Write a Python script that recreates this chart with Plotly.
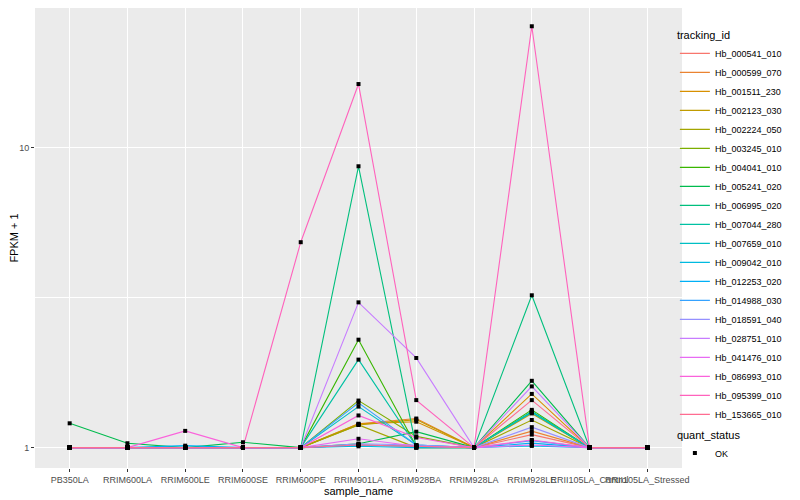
import plotly.graph_objects as go

# samples on the x axis
sample_name = ['PB350LA', 'RRIM600LA', 'RRIM600LE', 'RRIM600SE', 'RRIM600PE',
               'RRIM901LA', 'RRIM928BA', 'RRIM928LA', 'RRIM928LE',
               'RRII105LA_Control', 'RRII105LA_Stressed']

tracking_id = ['Hb_000541_010', 'Hb_000599_070', 'Hb_001511_230', 'Hb_002123_030',
               'Hb_002224_050', 'Hb_003245_010', 'Hb_004041_010', 'Hb_005241_020',
               'Hb_006995_020', 'Hb_007044_280', 'Hb_007659_010', 'Hb_009042_010',
               'Hb_012253_020', 'Hb_014988_030', 'Hb_018591_040', 'Hb_028751_010',
               'Hb_041476_010', 'Hb_086993_010', 'Hb_095399_010', 'Hb_153665_010']

# FPKM + 1 for each gene across the samples
Hb_000541_010 = [1, 1, 1, 1, 1, 1.02, 1.01, 1, 1.105, 1, 1]
Hb_000599_070 = [1, 1, 1, 1, 1, 1.20, 1.25, 1, 1.135, 1, 1]
Hb_001511_230 = [1, 1, 1, 1, 1, 1.20, 1.22, 1, 1.51, 1, 1]
Hb_002123_030 = [1, 1, 1, 1, 1, 1.19, 1.24, 1, 1.30, 1, 1]
Hb_002224_050 = [1, 1, 1, 1, 1, 1.19, 1.00, 1, 1.236, 1, 1]
Hb_003245_010 = [1, 1, 1, 1, 1, 1.435, 1.09, 1, 1.315, 1, 1]
Hb_004041_010 = [1, 1, 1, 1, 1, 2.29, 1.01, 1, 1.336, 1, 1]
Hb_005241_020 = [1.205, 1.034, 1, 1.042, 1, 1.03, 1.13, 1, 1.67, 1, 1]
Hb_006995_020 = [1, 1, 1, 1, 1, 8.67, 1.00, 1, 3.22, 1, 1]
Hb_007044_280 = [1, 1, 1, 1, 1, 1.965, 1.01, 1, 1.32, 1, 1]
Hb_007659_010 = [1, 1, 1, 1, 1, 1.37, 1.02, 1, 1.31, 1, 1]
Hb_009042_010 = [1, 1, 1, 1, 1, 1.01, 1.00, 1, 1.013, 1, 1]
Hb_012253_020 = [1, 1, 1.015, 1, 1, 1.02, 1.01, 1, 1.035, 1, 1]
Hb_014988_030 = [1, 1, 1, 1, 1, 1.41, 1.02, 1, 1.055, 1, 1]
Hb_018591_040 = [1, 1, 1, 1, 1, 1.03, 1.02, 1, 1.17, 1, 1]
Hb_028751_010 = [1, 1, 1, 1, 1, 3.05, 1.99, 1, 1.60, 1, 1]
Hb_041476_010 = [1, 1, 1, 1, 1, 1.07, 1.01, 1, 1.02, 1, 1]
Hb_086993_010 = [1, 1, 1.137, 1, 1, 1.28, 1.08, 1, 1.06, 1, 1]
Hb_095399_010 = [1, 1, 1, 1, 4.84, 16.3, 1.44, 1, 25.4, 1, 1]
Hb_153665_010 = [1, 1, 1, 1, 1, 1.02, 1.01, 1, 1.44, 1, 1]

values = [Hb_000541_010, Hb_000599_070, Hb_001511_230, Hb_002123_030, Hb_002224_050,
          Hb_003245_010, Hb_004041_010, Hb_005241_020, Hb_006995_020, Hb_007044_280,
          Hb_007659_010, Hb_009042_010, Hb_012253_020, Hb_014988_030, Hb_018591_040,
          Hb_028751_010, Hb_041476_010, Hb_086993_010, Hb_095399_010, Hb_153665_010]

# ggplot hue palette for 20 levels
colors = ['#F8766D', '#EA8331', '#D89000', '#C09B00', '#A3A500', '#7CAE00', '#39B600',
          '#00BB4E', '#00BF7D', '#00C1A3', '#00BFC4', '#00BAE0', '#00B0F6', '#35A2FF',
          '#9590FF', '#C77CFF', '#E76BF3', '#FA62DB', '#FF62BC', '#FF6C91']

fig = go.Figure()

# lines, one per gene
for name, vals, col in zip(tracking_id, values, colors):
    fig.add_trace(go.Scatter(
        x=sample_name, y=vals, mode='lines', name=name,
        line=dict(color=col, width=1.1), legend='legend'
    ))

# points on top of the lines
for i, (name, vals) in enumerate(zip(tracking_id, values)):
    fig.add_trace(go.Scatter(
        x=sample_name, y=vals, mode='markers', name='OK',
        marker=dict(color='black', size=4, symbol='square'),
        legend='legend2', legendgroup='OK', showlegend=(i == 0)
    ))

# the page body adds an 8px offset, so margins are set 8px smaller
font = 'Liberation Sans, Arial, sans-serif'
fig.update_layout(
    width=800, height=500,
    paper_bgcolor='white', plot_bgcolor='#EBEBEB',
    margin=dict(l=27, r=126, t=0, b=40, autoexpand=False),
    font=dict(family=font, size=9, color='#4D4D4D'),
    legend=dict(
        title=dict(text='tracking_id', font=dict(size=11, color='black')),
        font=dict(size=9, color='black'),
        x=0.989, xanchor='left', y=0.964, yanchor='top',
        bgcolor='rgba(0,0,0,0)', tracegroupgap=0, itemwidth=30
    ),
    legend2=dict(
        title=dict(text='quant_status', font=dict(size=11, color='black')),
        font=dict(size=9, color='black'),
        x=0.989, xanchor='left', y=0.095, yanchor='top',
        bgcolor='rgba(0,0,0,0)', itemwidth=30
    ),
    showlegend=True,
)

fig.update_xaxes(
    type='category', range=[-0.6, 10.6], tickangle=0, automargin=False,
    showgrid=True, gridcolor='white', gridwidth=1.1,
    ticks='outside', ticklen=3, tickcolor='#333333',
    tickfont=dict(size=9, color='#4D4D4D'),
    title=dict(text='sample_name', font=dict(size=11, color='black'), standoff=1),
    zeroline=False, showline=False
)

fig.update_yaxes(
    type='log', range=[-0.068, 1.4657], automargin=False,
    tickvals=[1, 10], ticktext=['1', '10'],
    showgrid=True, gridcolor='white', gridwidth=1.1,
    minor=dict(tickvals=[10 ** 0.5], showgrid=True, gridcolor='white', gridwidth=0.5, ticks=''),
    ticks='outside', ticklen=3, tickcolor='#333333',
    tickfont=dict(size=9, color='#4D4D4D'),
    title=dict(text='FPKM + 1', font=dict(size=11, color='black'), standoff=0),
    zeroline=False, showline=False
)

fig.write_html("out.html")
